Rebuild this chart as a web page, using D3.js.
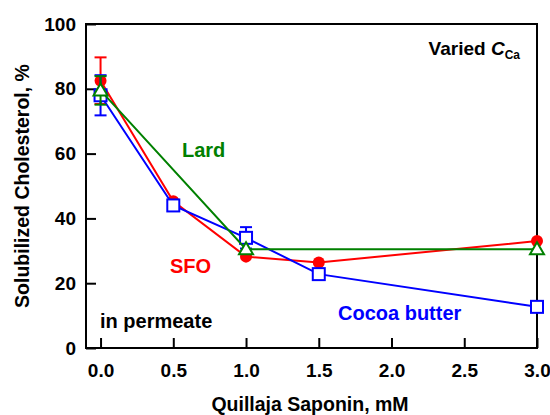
<!DOCTYPE html>
<html>
<head>
<meta charset="utf-8">
<script src="https://cdn.jsdelivr.net/npm/d3@7/dist/d3.min.js"></script>
<style>
  html, body { margin: 0; padding: 0; background: #fff; }
  svg text { font-family: "Liberation Sans", Arial, sans-serif; font-weight: bold; }
</style>
</head>
<body>
<svg id="chart" width="550" height="415"></svg>
<script>
// Saponin concentration (mM) and solubilized cholesterol (%) for each fat
const sfoX = [0, 0.5, 1.0, 1.5, 3.0];
const sfoY = [82.5, 45.3, 28.2, 26.4, 33.0];
const sfoErr = [7.2, 0, 0, 0, 0];

const cocoaX = [0, 0.5, 1.0, 1.5, 3.0];
const cocoaY = [78.0, 44.0, 34.0, 22.8, 12.7];
const cocoaErr = [6.2, 0, 3.3, 0, 0];

const lardX = [0, 1.0, 3.0];
const lardY = [79.5, 30.5, 30.5];
const lardErr = [4.4, 0, 0];

const xTicks = [0, 0.5, 1.0, 1.5, 2.0, 2.5, 3.0];
const yTicks = [0, 20, 40, 60, 80, 100];

const svg = d3.select("#chart");
const plotL = 86, plotR = 537, plotT = 24, plotB = 348;

const x = d3.scaleLinear().domain([-0.1, 3.0]).range([plotL, plotR]);
const y = d3.scaleLinear().domain([0, 100]).range([plotB, plotT]);

// frame
svg.append("rect")
  .attr("x", plotL).attr("y", plotT)
  .attr("width", plotR - plotL).attr("height", plotB - plotT)
  .attr("fill", "none").attr("stroke", "#000").attr("stroke-width", 2);

// axes with inward ticks
const xAxis = svg.append("g").attr("transform", `translate(0,${plotB})`)
  .call(d3.axisBottom(x).tickValues(xTicks).tickFormat(d3.format(".1f"))
    .tickSizeInner(-10).tickSizeOuter(0).tickPadding(16));
const yAxis = svg.append("g").attr("transform", `translate(${plotL},0)`)
  .call(d3.axisLeft(y).tickValues(yTicks).tickFormat(d3.format("d"))
    .tickSizeInner(-10).tickSizeOuter(0).tickPadding(10));
[xAxis, yAxis].forEach(g => {
  g.select(".domain").remove();
  g.selectAll(".tick line").attr("stroke", "#000").attr("stroke-width", 2);
  g.selectAll(".tick text").attr("fill", "#000")
    .style("font-size", "19px").style("font-family", "Liberation Sans, Arial, sans-serif")
    .style("font-weight", "bold");
});

// axis titles
svg.append("text")
  .attr("x", 310).attr("y", 411)
  .attr("text-anchor", "middle").style("font-size", "19.5px")
  .text("Quillaja Saponin, mM");
svg.append("text")
  .attr("transform", "translate(29,186) rotate(-90)")
  .attr("text-anchor", "middle").style("font-size", "19.5px")
  .text("Solubilized Cholesterol, %");

function drawSeries(xs, ys, errs, color, marker) {
  const pts = xs.map((d, i) => ({ x: d, y: ys[i], e: errs[i] }));
  const g = svg.append("g");
  g.append("path").datum(pts)
    .attr("fill", "none").attr("stroke", color).attr("stroke-width", 2)
    .attr("d", d3.line().x(d => x(d.x)).y(d => y(d.y)));
  // error bars
  pts.filter(d => d.e > 0).forEach(d => {
    const cx = x(d.x);
    g.append("line").attr("x1", cx).attr("x2", cx)
      .attr("y1", y(d.y - d.e)).attr("y2", y(d.y + d.e))
      .attr("stroke", color).attr("stroke-width", 2);
    [d.y - d.e, d.y + d.e].forEach(v => {
      g.append("line").attr("x1", cx - 6).attr("x2", cx + 6)
        .attr("y1", y(v)).attr("y2", y(v))
        .attr("stroke", color).attr("stroke-width", 2);
    });
  });
  // markers
  pts.forEach(d => {
    const cx = x(d.x), cy = y(d.y);
    if (marker === "circle") {
      g.append("circle").attr("cx", cx).attr("cy", cy).attr("r", 6)
        .attr("fill", color);
    } else if (marker === "square") {
      g.append("rect").attr("x", cx - 6).attr("y", cy - 6)
        .attr("width", 12).attr("height", 12)
        .attr("fill", "#fff").attr("stroke", color).attr("stroke-width", 2);
    } else {
      g.append("path")
        .attr("d", `M${cx},${cy - 7}L${cx + 7},${cy + 5}L${cx - 7},${cy + 5}Z`)
        .attr("fill", "#fff").attr("stroke", color).attr("stroke-width", 2);
    }
  });
}

drawSeries(sfoX, sfoY, sfoErr, "#ff0000", "circle");
drawSeries(cocoaX, cocoaY, cocoaErr, "#0000ff", "square");
drawSeries(lardX, lardY, lardErr, "#008000", "triangle");

// series labels
svg.append("text").attr("x", 182).attr("y", 157).attr("fill", "#008000")
  .style("font-size", "20px").text("Lard");
svg.append("text").attr("x", 170).attr("y", 273).attr("fill", "#ff0000")
  .style("font-size", "20px").text("SFO");
svg.append("text").attr("x", 338).attr("y", 320).attr("fill", "#0000ff")
  .style("font-size", "20px").text("Cocoa butter");
svg.append("text").attr("x", 100).attr("y", 328).attr("fill", "#000")
  .style("font-size", "20px").text("in permeate");

const note = svg.append("text").attr("x", 520).attr("y", 55)
  .attr("text-anchor", "end").style("font-size", "19px").attr("fill", "#000");
note.append("tspan").text("Varied ");
note.append("tspan").style("font-style", "italic").text("C");
note.append("tspan").attr("dy", 4).style("font-size", "12px").text("Ca");
</script>
</body>
</html>
